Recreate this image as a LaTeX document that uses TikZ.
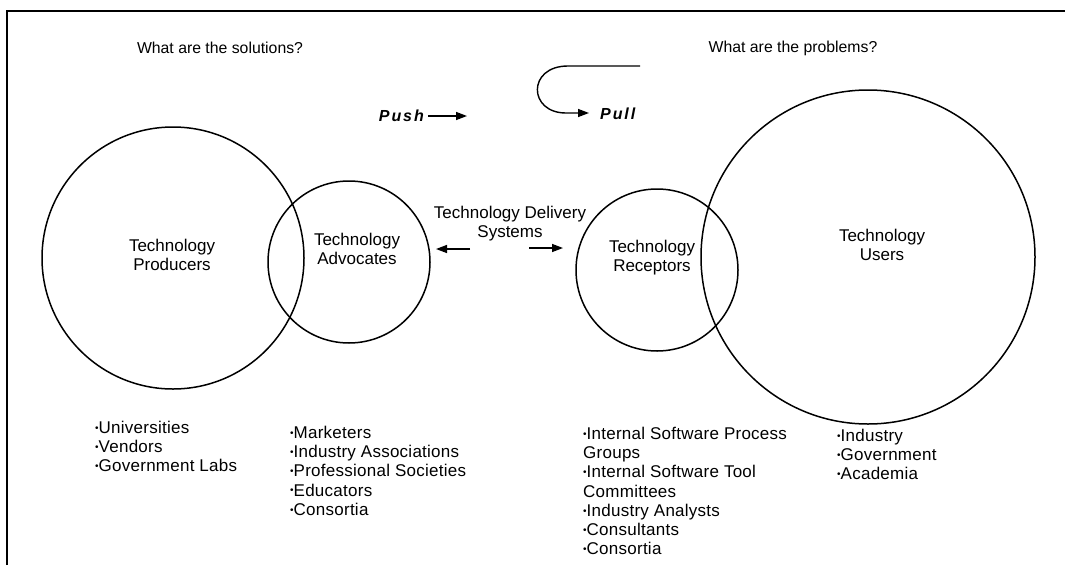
\documentclass[tikz,border=0pt]{standalone}
\usepackage{fontspec}
\setmainfont{Liberation Sans}
\usetikzlibrary{arrows.meta}
% small raised bullet used in the lists
\newcommand\bul{\raisebox{0.25ex}{\fontsize{10}{10}\selectfont •}}
\begin{document}
\begin{tikzpicture}[x=1pt,y=-1pt,
  ring/.style={draw, circle, line width=1.5pt, inner sep=0pt},
  lbl/.style={font=\fontsize{17}{19}\selectfont, align=center, inner sep=0pt},
  lst/.style={font=\fontsize{17}{19.2}\selectfont\addfontfeatures{LetterSpace=1.5}, align=left, anchor=north west, inner sep=0pt},
  ttl/.style={font=\fontsize{15.8}{18}\selectfont, inner sep=0pt},
  pp/.style={font=\fontsize{16}{18}\selectfont\bfseries\itshape\addfontfeatures{LetterSpace=12}, inner sep=0pt},
  arr/.style={line width=1.4pt, -{Triangle[length=11pt,width=8pt]}},
]
\useasboundingbox (0,0) rectangle (1065,565);

% frame
\coordinate (fb) at (7,565);
\coordinate (fc) at (7,11);
\coordinate (fr) at (1065,11);
\draw[line width=1.6pt] (fb) -- (fc) -- (fr);

% headings
\node[ttl] (qsol) at (220,48) {What are the solutions?};
\node[ttl] (qprob) at (793,48) {What are the problems?};

% push / pull
\node[pp, anchor=east] (push) at (424,116) {Push};
\coordinate (pushE) at (467,116);
\draw[arr] (push.east) ++(4,0) -- (pushE);

\node[pp, anchor=west] (pull) at (600,114) {Pull};
\coordinate (hookS) at (640,66);
\coordinate (hookA) at (568,66);
\coordinate (hookB) at (566,113);
\coordinate (pullE) at (589,113);
\draw[arr] (hookS) -- (hookA) .. controls (527,66) and (528,113) .. (hookB) -- (pullE);

% circles
\node[ring, minimum size=262pt] (prodC) at (173,258) {};
\node[ring, minimum size=162pt] (advC) at (349,262) {};
\node[ring, minimum size=162pt] (recC) at (657,270) {};
\node[ring, minimum size=334pt] (userC) at (868,257) {};

% circle labels
\node[lbl] (prod) at (172,255) {Technology\\Producers};
\node[lbl] (adv) at (357,249) {Technology\\Advocates};
\node[lbl] (rec) at (652,258) {Technology\\Receptors};
\node[lbl] (user) at (882,245) {Technology\\Users};

% delivery systems
\node[lbl] (deliv) at (510,224) {Technology Delivery\\Systems};
\coordinate (lA) at (470,249);
\coordinate (lB) at (436,249);
\coordinate (rA) at (529,248);
\coordinate (rB) at (563,248);
\draw[arr] (lA) -- (lB);
\draw[arr] (rA) -- (rB);

% lists
\node[lst] (prodL) at (95,421) {\bul Universities\\\bul Vendors\\\bul Government Labs};
\node[lst] (advL) at (290,426) {\bul Marketers\\\bul Industry Associations\\\bul Professional Societies\\\bul Educators\\\bul Consortia};
\node[lst] (recL) at (583,427) {\bul Internal Software Process\\Groups\\\bul Internal Software Tool\\Committees\\\bul Industry Analysts\\\bul Consultants\\\bul Consortia};
\node[lst] (userL) at (837,429) {\bul Industry\\\bul Government\\\bul Academia};
\end{tikzpicture}
\end{document}
